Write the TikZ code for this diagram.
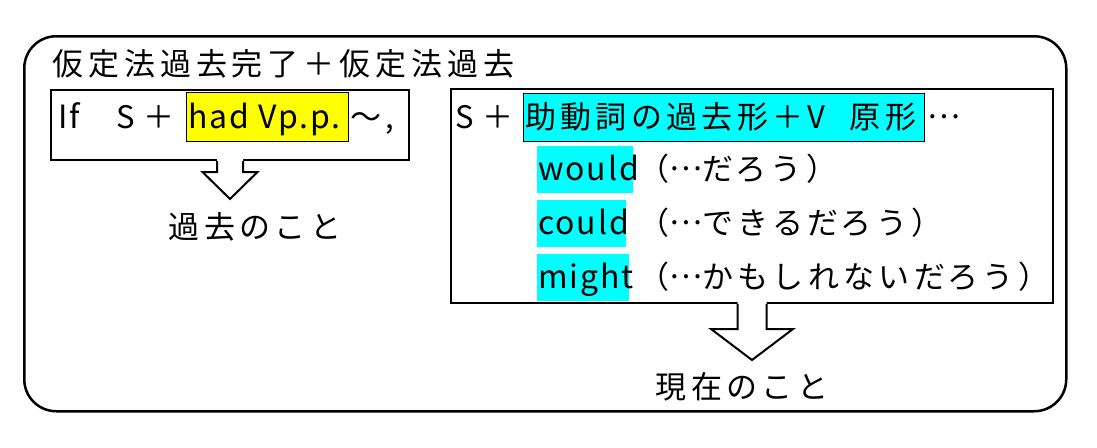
\documentclass[tikz,border=0pt]{standalone}
\usepackage{fontspec}
\setmainfont{Noto Sans CJK JP}
\usetikzlibrary{calc}
\definecolor{hly}{RGB}{255,255,0}
\definecolor{hlc}{RGB}{0,255,255}
\newcommand{\jpf}{\fontsize{31}{36}\selectfont\addfontfeatures{LetterSpace=14}}
\newcommand{\jpt}{\fontsize{31}{36}\selectfont\addfontfeatures{LetterSpace=16}}
\newcommand{\latf}{\fontsize{32}{36}\selectfont\addfontfeatures{LetterSpace=6}}
\newcommand{\mdots}{\raisebox{10pt}{…}}
\begin{document}
\begin{tikzpicture}[x=1pt,y=-1pt,
  txt/.style={inner sep=0pt, anchor=west, text height=26pt, text depth=4pt, font=\jpf},
  lat/.style={txt, font=\latf},
  ctxt/.style={txt, anchor=center},
  box/.style={draw, line width=2pt, inner sep=0pt, anchor=north west},
  hlbox/.style={inner sep=0pt, anchor=north west},
  blockarrow/.style={line width=2pt, line join=miter}]
\useasboundingbox (0,0) rectangle (1097,447);
% outer frame
\node[draw, line width=2.5pt, rounded corners=32pt, inner sep=0pt, anchor=north west,
      minimum width=1042pt, minimum height=375pt] (outer) at (23,35) {};
\node[txt, font=\jpt] (title) at (52,64) {仮定法過去完了＋仮定法過去};
% left box
\node[box, minimum width=358pt, minimum height=70pt] (leftbox) at (50,89) {};
\node[lat] (if) at (58,117) {If};
\node[txt] (s1) at (116,117) {S\hspace{9pt}＋};
\node[hlbox, fill=hly, draw, line width=1.2pt, minimum width=162pt, minimum height=49pt] (hlhad) at (186,92) {};
\node[lat] (had) at ($(hlhad.west)+(2,0)$) {had Vp.p.};
\node[txt] (tilde) at ($(hlhad.east)+(1,0)$) {～,};
% left block arrow
\fill[white] ($(leftbox.south)+(-13,-2)$) -- ($(leftbox.south)+(-13,11)$) -- ($(leftbox.south)+(-27.5,11)$)
  -- ($(leftbox.south)+(0,38)$) -- ($(leftbox.south)+(27.5,11)$) -- ($(leftbox.south)+(13,11)$)
  -- ($(leftbox.south)+(13,-2)$) -- cycle;
\draw[blockarrow] ($(leftbox.south)+(-13,0)$) -- ($(leftbox.south)+(-13,11)$) -- ($(leftbox.south)+(-27.5,11)$)
  -- ($(leftbox.south)+(0,38)$) -- ($(leftbox.south)+(27.5,11)$) -- ($(leftbox.south)+(13,11)$)
  -- ($(leftbox.south)+(13,0)$);
\node[ctxt] (past) at (255,227) {過去のこと};
% right box
\node[box, minimum width=602pt, minimum height=214pt] (rightbox) at (450,88) {};
\node[txt] (s2) at (455,117) {S\hspace{9pt}＋};
\node[hlbox, fill=hlc, draw, line width=1.2pt, minimum width=401pt, minimum height=48pt] (hlaux) at (523,93) {};
\node[txt] (aux) at ($(hlaux.west)+(2,0)$) {助動詞の過去形＋V\hspace{24pt}原形};
\node[txt] (dots) at ($(hlaux.east)+(2,0)$) {\mdots};
\coordinate (px) at (638,0);
\node[hlbox, fill=hlc, minimum width=96pt, minimum height=47pt] (hlwould) at (537,146) {};
\node[lat] (would) at ($(hlwould.west)+(1,0)$) {would};
\node[txt] (wouldj) at (hlwould.east -| px) {（\mdots だろう）};
\node[hlbox, fill=hlc, minimum width=89pt, minimum height=47pt] (hlcould) at (537,200) {};
\node[lat] (could) at ($(hlcould.west)+(1,0)$) {could};
\node[txt] (couldj) at (hlcould.east -| px) {（\mdots できるだろう）};
\node[hlbox, fill=hlc, minimum width=92pt, minimum height=47pt] (hlmight) at (537,254) {};
\node[lat] (might) at ($(hlmight.west)+(1,0)$) {might};
\node[txt] (mightj) at (hlmight.east -| px) {（\mdots かもしれないだろう）};
% right block arrow
\fill[white] ($(rightbox.south)+(-14.5,-2)$) -- ($(rightbox.south)+(-14.5,25)$) -- ($(rightbox.south)+(-41,25)$)
  -- ($(rightbox.south)+(0,56)$) -- ($(rightbox.south)+(41,25)$) -- ($(rightbox.south)+(14.5,25)$)
  -- ($(rightbox.south)+(14.5,-2)$) -- cycle;
\draw[blockarrow] ($(rightbox.south)+(-14.5,0)$) -- ($(rightbox.south)+(-14.5,25)$) -- ($(rightbox.south)+(-41,25)$)
  -- ($(rightbox.south)+(0,56)$) -- ($(rightbox.south)+(41,25)$) -- ($(rightbox.south)+(14.5,25)$)
  -- ($(rightbox.south)+(14.5,0)$);
\node[ctxt] (present) at (742,387) {現在のこと};
\end{tikzpicture}
\end{document}
